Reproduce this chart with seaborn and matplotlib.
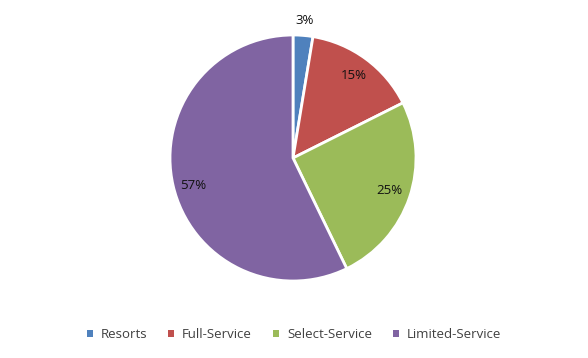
import matplotlib
matplotlib.use("Agg")
import matplotlib.pyplot as plt
import seaborn as sns
from matplotlib.patches import Patch

categories = ["Resorts", "Full-Service", "Select-Service", "Limited-Service"]
values = [2.6, 15.0, 25.2, 57.2]
labels_pct = ["3%", "15%", "25%", "57%"]
colors = ["#4F81BD", "#C0504D", "#9BBB59", "#8064A2"]

sns.set_theme(style="white")
plt.rcParams['font.family'] = ['Open Sans', 'DejaVu Sans']

fig = plt.figure(figsize=(5.88, 3.58), dpi=100)
W, H = 588, 358
cx, cy, r = 293, 158, 123
ax = fig.add_axes([(cx - r) / W, (H - cy - r) / H, 2 * r / W, 2 * r / H])

pal = sns.color_palette(colors)
wedges, texts = ax.pie(values, colors=pal, startangle=90, counterclock=False,
                       labels=labels_pct, labeldistance=0.83,
                       wedgeprops=dict(edgecolor="white", linewidth=2),
                       textprops=dict(fontsize=9.5, color="#111111", ha="center", va="center"))
for t in texts:
    t.set_ha("center")
    t.set_va("center")
x0, y0 = texts[0].get_position()
texts[0].set_position((x0 * 1.12 / 0.83, y0 * 1.12 / 0.83))
x3, y3 = texts[3].get_position()
texts[3].set_position((x3, y3 - 0.04))
ax.set_xlim(-1, 1)
ax.set_ylim(-1, 1)
ax.set_aspect("equal")

handles = [Patch(facecolor=c, edgecolor="none") for c in pal]
fig.legend(handles, categories, loc="center", bbox_to_anchor=(0.50, 1 - 335 / H),
           ncol=4, frameon=False, fontsize=9.5, handlelength=0.45, handleheight=0.45,
           handletextpad=0.6, columnspacing=1.6, labelcolor="#404040")

fig.savefig("out.png", dpi=100)
